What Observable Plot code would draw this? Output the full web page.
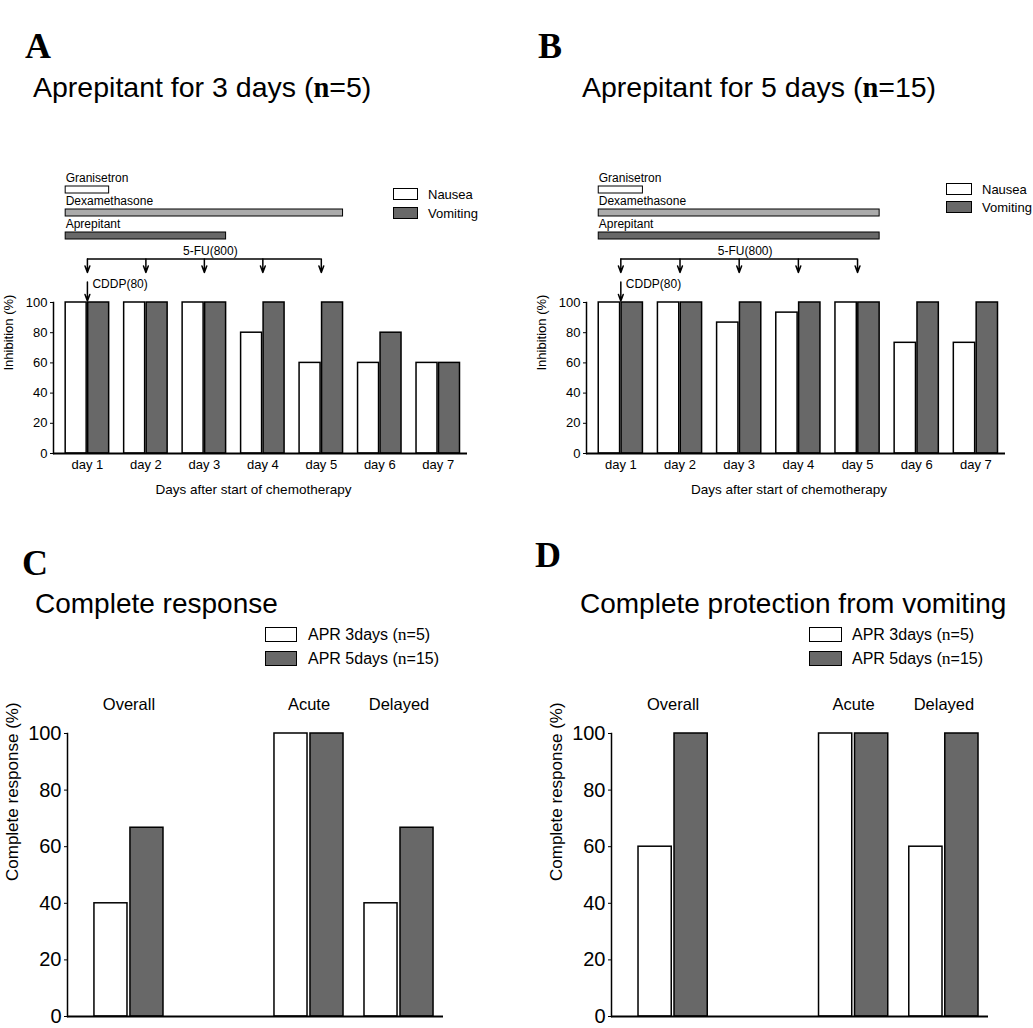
<!DOCTYPE html>
<html>
<head>
<meta charset="utf-8">
<script src="https://cdn.jsdelivr.net/npm/d3@7"></script>
<script src="https://cdn.jsdelivr.net/npm/@observablehq/plot@0.6"></script>
<style>
  body { margin: 0; background: #fff; }
  #fig { position: relative; width: 1033px; height: 1028px; overflow: hidden; background: #fff;
         font-family: "Liberation Sans", Arial, sans-serif; color: #000; }
  .abs { position: absolute; }
  .letter { position: absolute; font-family: "Liberation Serif", serif; font-weight: bold; font-size: 36px; line-height: 1; }
  .title { position: absolute; font-size: 28.5px; line-height: 1; white-space: nowrap; }
  .title.low { font-size: 28px; }
  .nb { font-family: "Liberation Serif", serif; font-weight: bold; }
  .ns { font-family: "Liberation Serif", serif; }
  .leg { position: absolute; display: flex; align-items: center; white-space: nowrap; line-height: 1; }
  .leg .sw { border: 1.5px solid #000; box-sizing: border-box; flex: none; }
</style>
</head>
<body>
<div id="fig">
  <div class="letter" style="left:25px;top:28px">A</div>
  <div class="title" style="left:33px;top:73px">Aprepitant for 3 days (<span class="nb">n</span>=5)</div>
  <div class="letter" style="left:538px;top:28px">B</div>
  <div class="title" style="left:582px;top:73px">Aprepitant for 5 days (<span class="nb">n</span>=15)</div>
  <div class="letter" style="left:22px;top:545px">C</div>
  <div class="title low" style="left:35px;top:590px">Complete response</div>
  <div class="letter" style="left:535px;top:537px">D</div>
  <div class="title low" style="left:580px;top:590px">Complete protection from vomiting</div>

  <div class="abs" id="barsA" style="left:0px;top:290px"></div>
  <div class="abs" id="barsB" style="left:520px;top:290px"></div>
  <div class="abs" id="schedA" style="left:0px;top:160px"></div>
  <div class="abs" id="schedB" style="left:520px;top:160px"></div>
  <div class="abs" id="crC" style="left:0px;top:690px"></div>
  <div class="abs" id="crD" style="left:520px;top:690px"></div>
</div>
<script>
// ---- data ----
const days = [1, 2, 3, 4, 5, 6, 7];
const symptoms = ["Nausea", "Vomiting"];
const nauseaA = [100, 100, 100, 80, 60, 60, 60];
const vomitingA = [100, 100, 100, 100, 100, 80, 60];
const nauseaB = [100, 100, 86.7, 93.3, 100, 73.3, 73.3];
const vomitingB = [100, 100, 100, 100, 100, 100, 100];

const drugs = ["Granisetron", "Dexamethasone", "Aprepitant"];
const startA = [1, 1, 1], endA = [1, 5, 3];
const startB = [1, 1, 1], endB = [1, 5, 5];
const fuDays = [1, 2, 3, 4, 5];
const cddpDays = [1];
const fuLabel = "5-FU(800)";
const cddpLabel = "CDDP(80)";

const phases = ["Overall", "Acute", "Delayed"];
const phaseSlots = ["Overall", "gap", "Acute", "Delayed"];
const arms = ["APR 3days (n=5)", "APR 5days (n=15)"];
const crC3 = [40, 100, 40], crC5 = [66.7, 100, 66.7];
const crD3 = [60, 100, 60], crD5 = [100, 100, 100];

const yTicks = [0, 20, 40, 60, 80, 100];

// ---- style ----
const WHITE = "#ffffff", LIGHT = "#ababab", DARK = "#686868";
const style = {background: "transparent", overflow: "visible", fontFamily: "'Liberation Sans', Arial, sans-serif"};
const dayDomain = [0.42, 7.5];
const scheduleRows = [...drugs, fuLabel, cddpLabel, "start"];

const dayRows = (nausea, vomiting) => days.flatMap((day, i) => [
  {day, series: "Nausea", value: nausea[i]},
  {day, series: "Vomiting", value: vomiting[i]}
]);
const drugRows = (start, end) => drugs.map((drug, i) => ({drug, start: start[i], end: end[i]}));
const armRows = (a, b) => phases.flatMap((phase, i) => [
  {phase, arm: arms[0], value: a[i]},
  {phase, arm: arms[1], value: b[i]}
]);

function inhibitionChart(rows, {width, marginLeft, marginRight}) {
  return Plot.plot({
    width, height: 220, marginLeft, marginRight, marginTop: 12, marginBottom: 57,
    style,
    x: {domain: dayDomain},
    y: {domain: [0, 100]},
    color: {domain: symptoms, range: [WHITE, DARK]},
    marks: [
      Plot.rect(rows.filter(d => d.series === "Nausea"), {
        x1: d => d.day - 0.5, x2: "day", y1: 0, y2: "value", fill: "series",
        stroke: "black", strokeWidth: 1.5, insetLeft: 7.5, insetRight: 0.75
      }),
      Plot.rect(rows.filter(d => d.series === "Vomiting"), {
        x1: "day", x2: d => d.day + 0.5, y1: 0, y2: "value", fill: "series",
        stroke: "black", strokeWidth: 1.5, insetLeft: 0.75, insetRight: 7.5
      }),
      Plot.ruleY([0], {strokeWidth: 2}),
      Plot.frame({anchor: "left", strokeWidth: 1.5}),
      Plot.axisY({ticks: yTicks, tickSize: 3, tickPadding: 3, fontSize: 13, label: null}),
      Plot.axisX({ticks: days, tickSize: 0, tickPadding: 6, tickFormat: d => `day ${d}`, fontSize: 13, label: null}),
      Plot.text(["Days after start of chemotherapy"], {frameAnchor: "bottom", dx: -7, dy: 40, fontSize: 13.5}),
      Plot.text(["Inhibition (%)"], {frameAnchor: "left", rotate: -90, dx: -45, dy: -7.5, fontSize: 13})
    ]
  });
}

function scheduleChart(treatments, {width, marginLeft, marginRight}) {
  return Plot.plot({
    width, height: 150, marginLeft, marginRight, marginTop: 0, marginBottom: 0,
    style,
    x: {domain: dayDomain, axis: null},
    y: {type: "band", domain: scheduleRows, range: [25, 149.5], paddingInner: 0.702, paddingOuter: 0, axis: null},
    color: {domain: drugs, range: [WHITE, LIGHT, DARK]},
    marks: [
      Plot.barX(treatments, {
        x1: d => d.start - 0.5, x2: d => d.end + 0.5, y: "drug", fill: "drug",
        stroke: "black", strokeWidth: 1, insetLeft: 7.5, insetRight: 7.5
      }),
      Plot.text(treatments, {x: d => d.start - 0.5, y: "drug", text: "drug", textAnchor: "start", dx: 7.5, dy: -11.5, fontSize: 12}),
      Plot.ruleY([fuLabel], {y: d => d, x1: d3.min(fuDays), x2: d3.max(fuDays), strokeWidth: 1.5}),
      Plot.text([fuLabel], {x: d3.mean(fuDays), y: d => d, dx: 6, dy: -8, fontSize: 12}),
      Plot.arrow(fuDays, {x1: d => d, x2: d => d, y1: () => fuLabel, y2: () => cddpLabel,
        insetEnd: 9.5, headLength: 7, headAngle: 40, strokeWidth: 1.5}),
      Plot.arrow(cddpDays, {x1: d => d, x2: d => d, y1: () => cddpLabel, y2: () => "start",
        insetEnd: 4, headLength: 7, headAngle: 40, strokeWidth: 1.5}),
      Plot.text(cddpDays, {x: d => d, y: () => cddpLabel, text: () => cddpLabel, textAnchor: "start", dx: 5, dy: 2, fontSize: 12})
    ]
  });
}

function responseChart(rows, {width, marginLeft, marginRight}) {
  return Plot.plot({
    width, height: 338, marginLeft, marginRight, marginTop: 43, marginBottom: 12,
    style,
    x: {type: "band", domain: phaseSlots, paddingInner: 0.233, paddingOuter: 0.205, align: 0.73, round: false, axis: null},
    y: {domain: [0, 100]},
    color: {domain: arms, range: [WHITE, DARK]},
    marks: [
      Plot.barY(rows.filter(d => d.arm === arms[0]), {x: "phase", y: "value", fill: "arm", stroke: "black", strokeWidth: 1.5, insetRight: 36}),
      Plot.barY(rows.filter(d => d.arm === arms[1]), {x: "phase", y: "value", fill: "arm", stroke: "black", strokeWidth: 1.5, insetLeft: 36}),
      Plot.ruleY([0], {strokeWidth: 2}),
      Plot.frame({anchor: "left", strokeWidth: 1.5}),
      Plot.axisY({ticks: yTicks, tickSize: 3, tickPadding: 3, fontSize: 20, label: null}),
      Plot.text(phases, {x: d => d, frameAnchor: "top", dy: -35, fontSize: 16.5}),
      Plot.text(["Complete response (%)"], {frameAnchor: "left", rotate: -90, dx: -55, dy: 6, fontSize: 17})
    ]
  });
}

d3.select("#barsA").append(() => inhibitionChart(dayRows(nauseaA, vomitingA), {width: 500, marginLeft: 53, marginRight: 33}));
d3.select("#barsB").append(() => inhibitionChart(dayRows(nauseaB, vomitingB), {width: 513, marginLeft: 66, marginRight: 28}));
d3.select("#schedA").append(() => scheduleChart(drugRows(startA, endA), {width: 500, marginLeft: 53, marginRight: 33}));
d3.select("#schedB").append(() => scheduleChart(drugRows(startB, endB), {width: 513, marginLeft: 66, marginRight: 28}));
d3.select("#crC").append(() => responseChart(armRows(crC3, crC5), {width: 520, marginLeft: 67, marginRight: 77}));
d3.select("#crD").append(() => responseChart(armRows(crD3, crD5), {width: 513, marginLeft: 91, marginRight: 45}));

// ---- legends ----
function legend(labels, colors, {left, tops, w, h, gap, fontSize}) {
  const fig = d3.select("#fig");
  labels.forEach((label, i) => {
    const row = fig.append("div").attr("class", "leg")
      .style("left", left + "px").style("top", tops[i] + "px")
      .style("height", h + "px").style("font-size", fontSize + "px");
    row.append("div").attr("class", "sw").style("width", w + "px").style("height", h + "px").style("background", colors[i]);
    const t = row.append("span").style("margin-left", gap + "px");
    const m = label.match(/^(.*\()n(=.*)$/);
    if (m) {
      t.append("span").text(m[1]);
      t.append("span").attr("class", "ns").style("font-size", "1.1em").text("n");
      t.append("span").text(m[2]);
    } else t.text(label);
  });
}
legend(symptoms, [WHITE, DARK], {left: 393, tops: [188, 207], w: 25, h: 12, gap: 10, fontSize: 13});
legend(symptoms, [WHITE, DARK], {left: 946, tops: [183, 201], w: 26, h: 12, gap: 10, fontSize: 13});
legend(arms, [WHITE, DARK], {left: 265, tops: [627, 651], w: 32, h: 15, gap: 11, fontSize: 16});
legend(arms, [WHITE, DARK], {left: 809, tops: [627, 651], w: 33, h: 15, gap: 10, fontSize: 16});
</script>
</body>
</html>
